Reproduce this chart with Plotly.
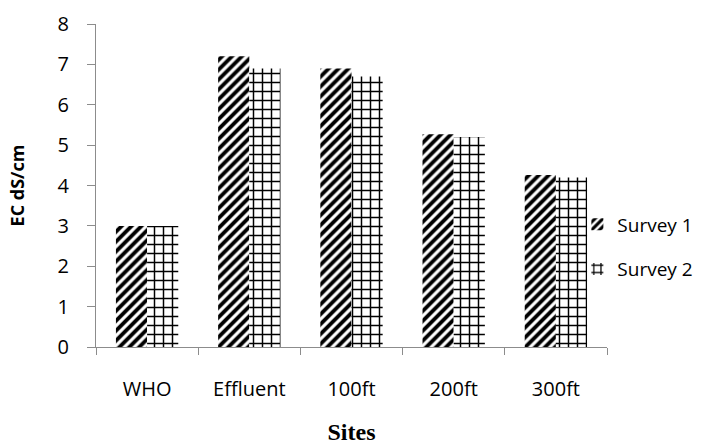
import plotly.graph_objects as go

sites = ["WHO", "Effluent", "100ft", "200ft", "300ft"]
survey1 = [3.0, 7.2, 6.9, 5.27, 4.26]
survey2 = [3.0, 6.9, 6.7, 5.2, 4.2]
y_ticks = [0, 1, 2, 3, 4, 5, 6, 7, 8]

fig = go.Figure()
fig.add_trace(go.Bar(
    x=sites, y=survey1, name="Survey 1", legendgroup="s1",
    marker=dict(color="black", line=dict(width=0),
                pattern=dict(shape="/", fgcolor="black", bgcolor="white",
                             fgopacity=1, fillmode="replace",
                             size=7, solidity=0.55)),
))
fig.add_trace(go.Bar(
    x=sites, y=survey2, name="Survey 2", legendgroup="s2",
    marker=dict(color="black", line=dict(width=0),
                pattern=dict(shape="+", fgcolor="black", bgcolor="white",
                             fgopacity=1, fillmode="replace",
                             size=9, solidity=0.3)),
))

axis_font = dict(family="Open Sans, Lato, sans-serif", size=20, color="black")

fig.update_layout(
    width=707, height=445,
    margin=dict(l=96, r=100, t=24, b=98, autoexpand=False),
    paper_bgcolor="white", plot_bgcolor="white",
    barmode="group", bargap=0.39, bargroupgap=0,
    showlegend=True,
    legend=dict(x=0.942, xanchor="left", y=0.31, yanchor="middle",
                font=dict(family="Open Sans, Lato, sans-serif", size=19, color="black"),
                tracegroupgap=17,
                traceorder="grouped", bgcolor="rgba(0,0,0,0)",
                itemwidth=30),
    xaxis=dict(
        showline=True, linecolor="#8c8c8c", linewidth=1,
        ticks="outside", tickson="boundaries", ticklen=7, tickcolor="#8c8c8c",
        tickfont=axis_font, showgrid=False, ticklabelstandoff=24,
        title=dict(text="<b>Sites</b>", standoff=22,
                   font=dict(family="Liberation Serif, Times New Roman, serif",
                             size=24, color="black")),
    ),
    yaxis=dict(
        range=[0, 8], tickvals=y_ticks,
        showline=True, linecolor="#8c8c8c", linewidth=1,
        ticks="outside", ticklen=8, tickcolor="#8c8c8c",
        tickfont=axis_font, showgrid=False, zeroline=False,
        ticklabelstandoff=14,
        title=dict(text="<b>EC dS/cm</b>", standoff=28,
                   font=dict(family="Open Sans, Lato, sans-serif", size=18, color="black")),
    ),
)

fig.write_html("out.html")
